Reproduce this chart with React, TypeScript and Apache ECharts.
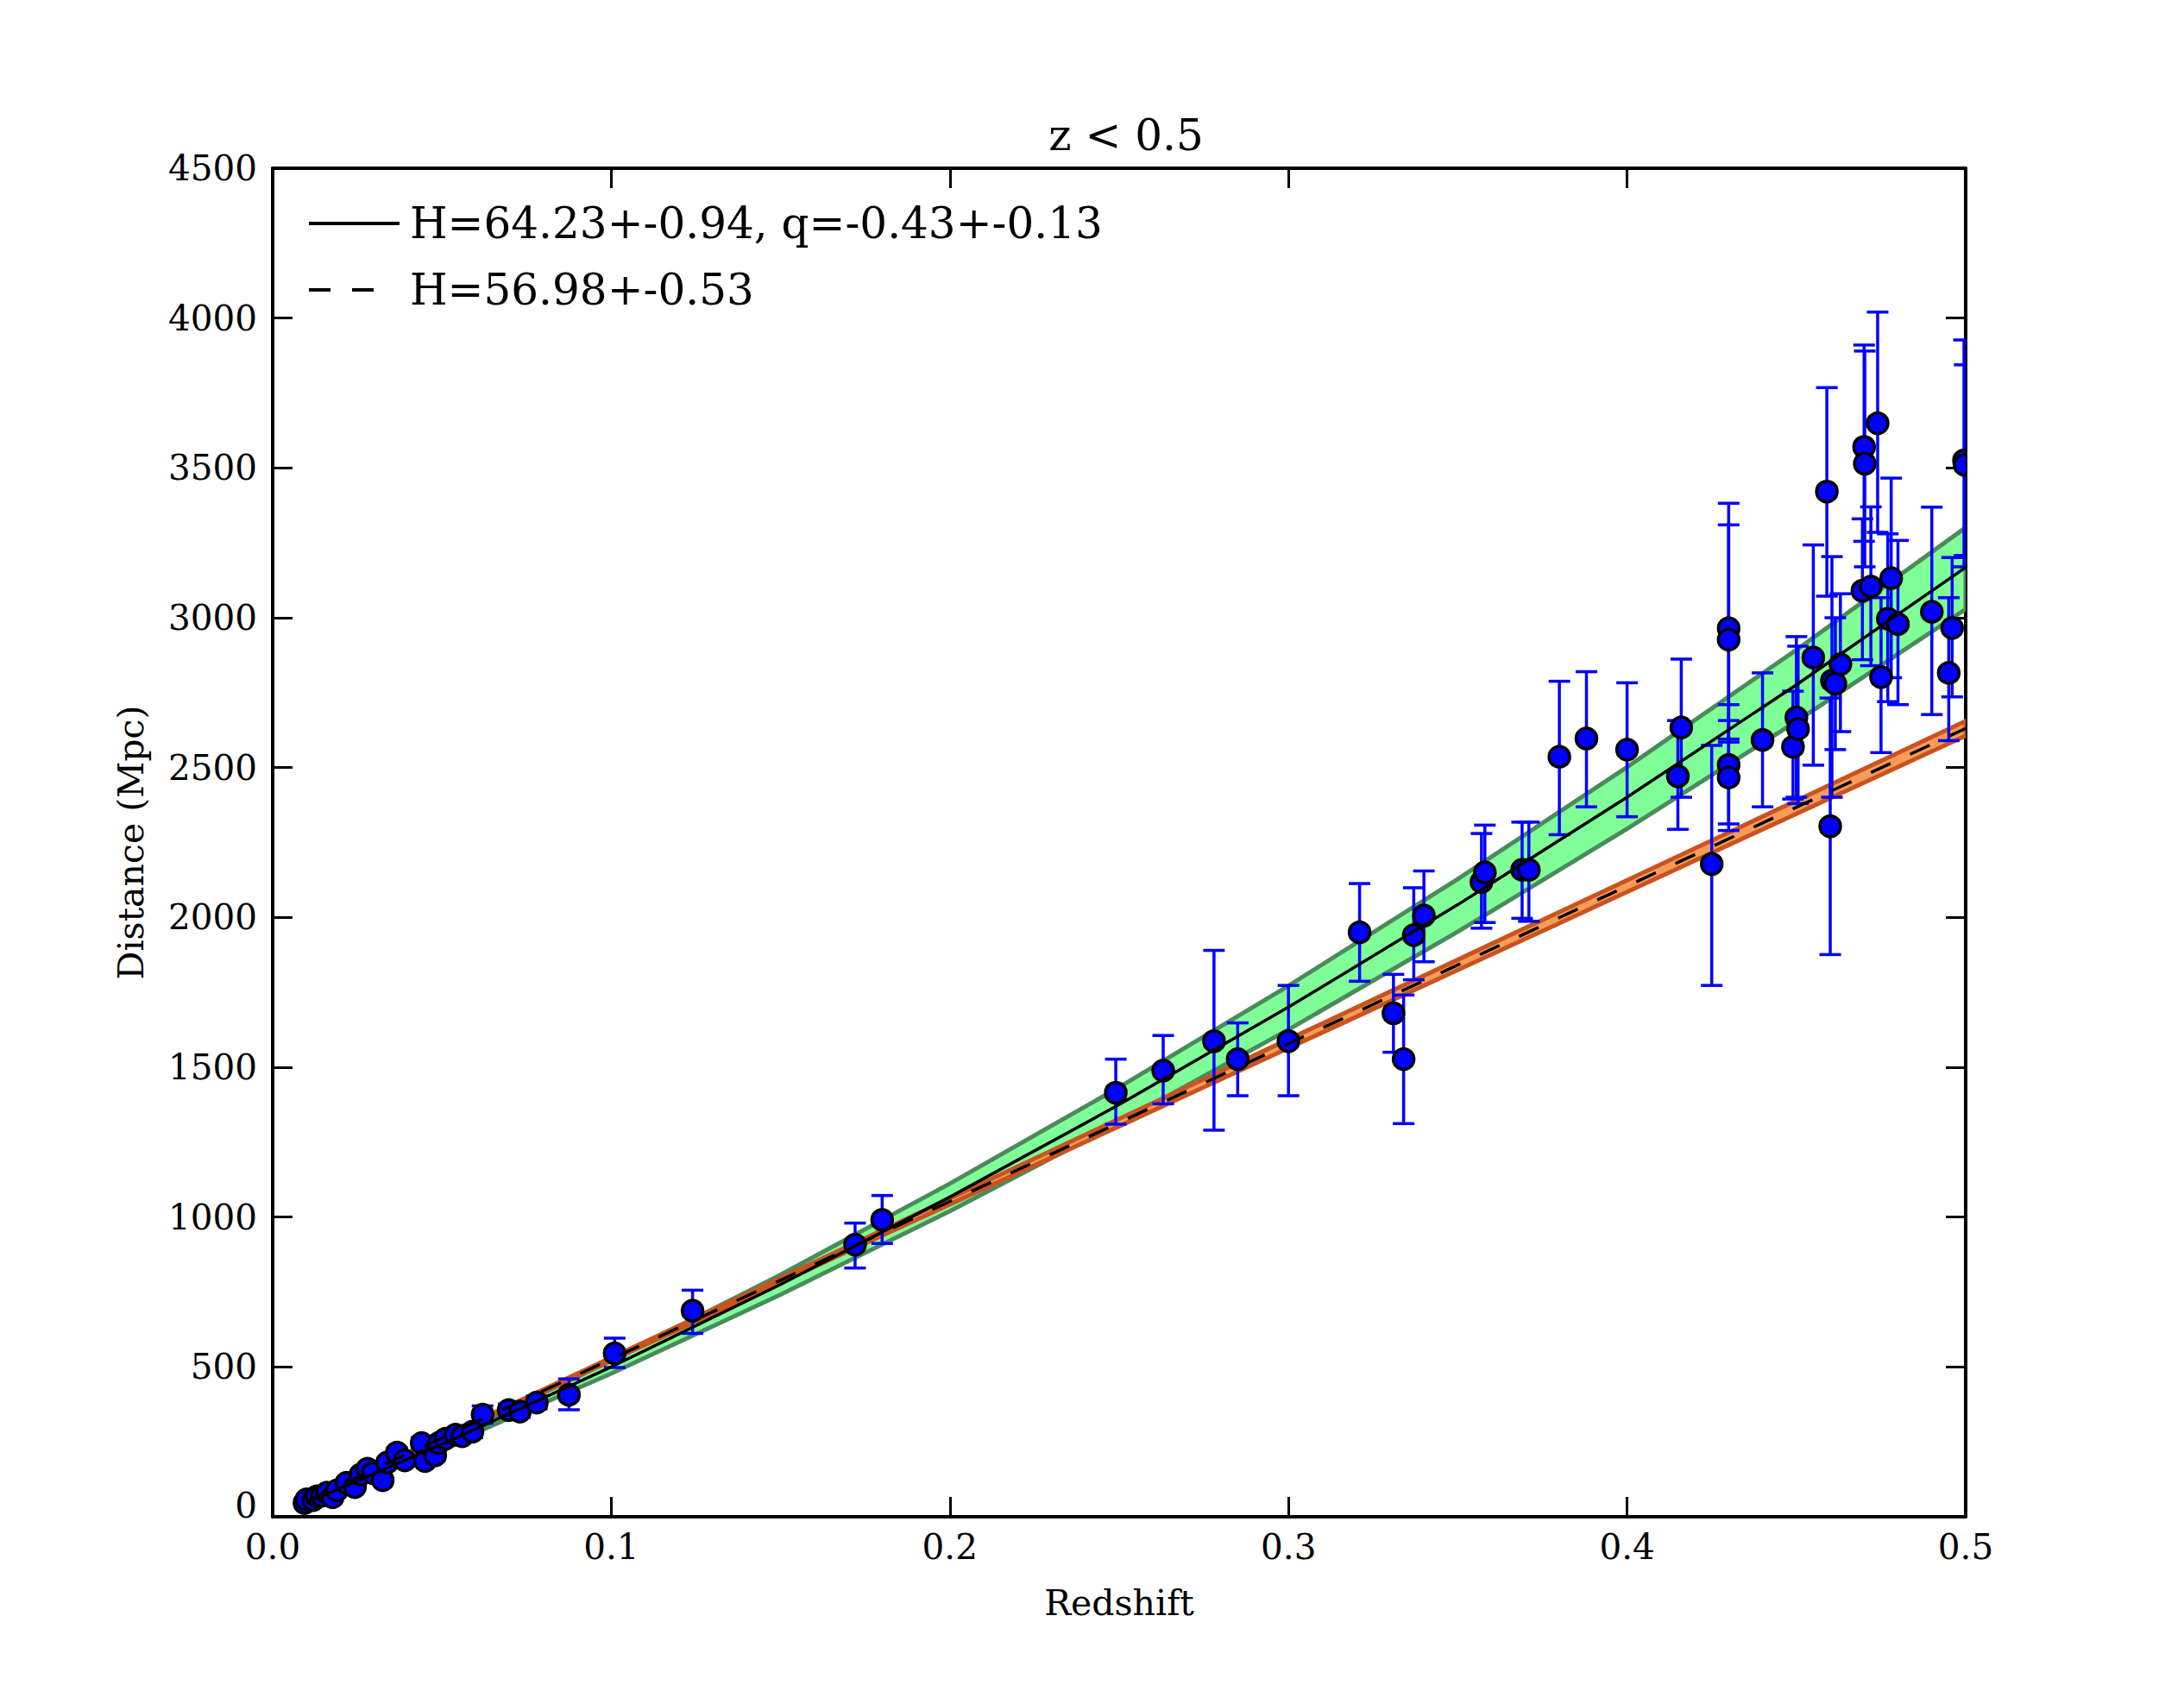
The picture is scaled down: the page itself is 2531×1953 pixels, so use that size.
import React, { useEffect, useRef } from "react";
import * as echarts from "echarts";

// ---- data ----
const pointZ = [
  0.0094, 0.01, 0.012, 0.013, 0.0145, 0.016, 0.0177, 0.019, 0.0218, 0.0243,
  0.026, 0.028, 0.0296, 0.0325, 0.0338, 0.0367, 0.039, 0.044, 0.045, 0.048,
  0.049, 0.051, 0.054, 0.056, 0.059, 0.062, 0.0697, 0.073, 0.078, 0.0875,
  0.101, 0.124, 0.172, 0.18,
  0.249, 0.263, 0.278, 0.285, 0.3, 0.321, 0.331, 0.334, 0.337, 0.34,
  0.357, 0.358, 0.369, 0.371, 0.38, 0.388, 0.4, 0.415, 0.416, 0.425,
  0.43, 0.43, 0.43, 0.43, 0.44, 0.449, 0.45, 0.4505, 0.455, 0.459,
  0.46, 0.4605, 0.4615, 0.463, 0.47, 0.4702, 0.4695, 0.472, 0.474, 0.475,
  0.477, 0.478, 0.48, 0.49, 0.495, 0.496, 0.4995, 0.4997,
];
const pointD = [
  46, 58, 56, 68, 70, 80, 65, 88, 113, 99,
  141, 160, 146, 122, 181, 214, 188, 246, 186, 205,
  246, 260, 274, 269, 284, 341, 356, 351, 381, 407,
  545, 688, 908, 991,
  1415, 1489, 1587, 1527, 1587, 1950, 1680, 1527, 1941, 2006,
  2118, 2150, 2159, 2159, 2536, 2597, 2560, 2471, 2634, 2178,
  2965, 2927, 2509, 2467, 2592, 2569, 2667, 2629, 2867, 3421,
  2304, 2790, 2780, 2845, 3570, 3514, 3090, 3104, 3649, 2802,
  2997, 3132, 2979, 3020, 2816, 2966, 3525, 3510,
];
const errLow = [
  43, 54, 52, 63, 65, 74, 60, 82, 105, 92,
  131, 149, 136, 113, 168, 199, 175, 229, 173, 191,
  229, 242, 255, 250, 264, 312, 337, 332, 360, 357,
  498, 612, 830, 912,
  1310, 1378, 1290, 1405, 1405, 1787, 1550, 1312, 1792, 1852,
  1964, 1983, 1997, 1987, 2276, 2369, 2336, 2294, 2401, 1773,
  2595, 2585, 2312, 2290, 2369, 2395, 2401, 2380, 2508, 3072,
  1876, 2401, 2560, 2620, 3255, 3170, 2860, 2840, 3285, 2550,
  2720, 2800, 2710, 2677, 2590, 2736, 3170, 3208,
];
const errHigh = [
  49, 62, 60, 73, 75, 86, 70, 95, 121, 106,
  151, 172, 157, 131, 194, 230, 202, 264, 200, 220,
  264, 279, 294, 289, 305, 370, 376, 371, 403, 460,
  596, 756, 980, 1072,
  1527, 1606, 1890, 1648, 1773, 2113, 1810, 1741, 2099, 2155,
  2280, 2308, 2318, 2318, 2788, 2820, 2783, 2657, 2862, 2574,
  3382, 3310, 2710, 2657, 2816, 2755, 2937, 2905, 3243, 3768,
  2732, 3204, 3000, 3080, 3910, 3890, 3330, 3370, 4020, 3067,
  3280, 3466, 3258, 3369, 3067, 3201, 3927, 3844,
];

// fit curves (H=64.23, q=-0.43 and H=56.98) and their bands, sampled at these redshifts
const fitZ = [0.01, 0.05, 0.1, 0.15, 0.2, 0.25, 0.3, 0.35, 0.4, 0.45, 0.5];
const fitQ = [47.0, 241.7, 500.1, 775.2, 1067.0, 1375.5, 1700.6, 2042.4, 2401.0, 2776.2, 3168.1];
const fitQHigh = [49.0, 251.9, 521.1, 807.8, 1111.8, 1433.3, 1772.0, 2128.2, 2501.8, 2892.8, 3301.2];
const fitQLow = [44.9, 231.1, 478.1, 741.1, 1020.1, 1315.0, 1625.8, 1952.5, 2295.4, 2654.0, 3028.7];
const fitH = [52.6, 263.1, 526.1, 789.2, 1052.3, 1315.3, 1578.4, 1841.5, 2104.5, 2367.6, 2630.7];
const fitHHigh = [53.1, 265.5, 531.1, 796.6, 1062.2, 1327.7, 1593.2, 1858.8, 2124.3, 2389.8, 2655.4];
const fitHLow = [52.1, 260.6, 521.3, 781.9, 1042.6, 1303.2, 1563.8, 1824.5, 2085.1, 2345.8, 2606.4];

const xTicks = [0, 0.1, 0.2, 0.3, 0.4, 0.5];
const yTicks = [0, 500, 1000, 1500, 2000, 2500, 3000, 3500, 4000, 4500];

const titleText = "z < 0.5";
const legendSolid = "H=64.23+-0.94, q=-0.43+-0.13";
const legendDashed = "H=56.98+-0.53";

const FONT = "DejaVu Serif";

function bandSeries(name: string, hi: number[], lo: number[], fill: string, edge: string, z: number) {
  return {
    name,
    type: "custom",
    z,
    clip: true,
    xAxisIndex: 0,
    yAxisIndex: 0,
    data: [[fitZ[0], lo[0]]],
    encode: { x: 0, y: 1 },
    silent: true,
    renderItem: (_params: any, api: any) => {
      const pts: number[][] = [];
      for (let i = 0; i < fitZ.length; i++) pts.push(api.coord([fitZ[i], hi[i]]));
      for (let i = fitZ.length - 1; i >= 0; i--) pts.push(api.coord([fitZ[i], lo[i]]));
      return {
        type: "polygon",
        shape: { points: pts },
        style: { fill, stroke: edge, lineWidth: 5 },
      };
    },
  };
}

export default function App() {
  const ref = useRef<HTMLDivElement>(null);
  useEffect(() => {
    if (!ref.current) return;
    const chart = echarts.init(ref.current, undefined, { renderer: "svg" });

    const errData = pointZ.map((z, i) => [z, pointD[i], errLow[i], errHigh[i]]);
    const pointData = pointZ.map((z, i) => [z, pointD[i]]);

    const axisCommon = {
      axisLine: { show: true, onZero: false, lineStyle: { color: "#000", width: 4 } },
      axisTick: { show: true, inside: true, length: 23, lineStyle: { color: "#000", width: 3 } },
      splitLine: { show: false },
    };

    const option: any = {
      animation: false,
      backgroundColor: "#fff",
      title: {
        text: titleText,
        left: 1300,
        top: 127,
        textAlign: "center",
        textStyle: { fontFamily: FONT, fontSize: 50, fontWeight: "normal", color: "#000" },
      },
      grid: { left: 316, top: 195, width: 1962, height: 1563, containLabel: false },
      xAxis: [
        {
          type: "value",
          min: 0,
          max: 0.5,
          interval: 0.1,
          position: "bottom",
          ...axisCommon,
          axisLabel: {
            show: true,
            margin: 20,
            lineHeight: 30,
            fontFamily: FONT,
            fontSize: 40.5,
            color: "#000",
            formatter: (v: number) => {
              const t = xTicks.find((x) => Math.abs(x - v) < 1e-9);
              return (t !== undefined ? t : v).toFixed(1);
            },
          },
          name: "Redshift",
          nameLocation: "middle",
          nameGap: 79,
          nameTextStyle: { fontFamily: FONT, fontSize: 41, color: "#000" },
        },
        {
          type: "value",
          min: 0,
          max: 0.5,
          interval: 0.1,
          position: "top",
          ...axisCommon,
          axisLabel: { show: false },
        },
      ],
      yAxis: [
        {
          type: "value",
          min: yTicks[0],
          max: yTicks[yTicks.length - 1],
          interval: 500,
          position: "left",
          ...axisCommon,
          axisLabel: {
            show: true,
            margin: 18,
            lineHeight: 30,
            fontFamily: FONT,
            fontSize: 40.5,
            color: "#000",
            formatter: (v: number) => (Math.round(v) === 0 ? "{zero|0}" : String(Math.round(v))),
            rich: {
              zero: {
                fontFamily: FONT,
                fontSize: 40.5,
                color: "#000",
                lineHeight: 30,
                padding: [0, 0, 26, 0],
              },
            },
          },
          name: "Distance (Mpc)",
          nameLocation: "middle",
          nameGap: 144,
          nameTextStyle: { fontFamily: FONT, fontSize: 41, color: "#000" },
        },
        {
          type: "value",
          min: 0,
          max: 4500,
          interval: 500,
          position: "right",
          ...axisCommon,
          axisLabel: { show: false },
        },
      ],
      series: [
        bandSeries("band q", fitQHigh, fitQLow, "#80ff99", "#4b8b5b", 1),
        bandSeries("band H", fitHHigh, fitHLow, "#f79c58", "#c9531f", 2),
        {
          name: "errors",
          type: "custom",
          z: 3,
          clip: true,
          xAxisIndex: 0,
          yAxisIndex: 0,
          data: errData,
          encode: { x: 0, y: 1 },
          silent: true,
          renderItem: (_params: any, api: any) => {
            const x = api.value(0);
            const lo = api.coord([x, api.value(2)]);
            const hi = api.coord([x, api.value(3)]);
            const cap = 12.5;
            const st = { stroke: "#0000ff", lineWidth: 3.5 };
            return {
              type: "group",
              children: [
                { type: "line", shape: { x1: lo[0], y1: lo[1], x2: hi[0], y2: hi[1] }, style: st },
                { type: "line", shape: { x1: lo[0] - cap, y1: lo[1], x2: lo[0] + cap, y2: lo[1] }, style: st },
                { type: "line", shape: { x1: hi[0] - cap, y1: hi[1], x2: hi[0] + cap, y2: hi[1] }, style: st },
              ],
            };
          },
        },
        {
          name: "data",
          type: "custom",
          z: 4,
          clip: true,
          xAxisIndex: 0,
          yAxisIndex: 0,
          data: pointData,
          encode: { x: 0, y: 1 },
          silent: true,
          renderItem: (_params: any, api: any) => {
            const p = api.coord([api.value(0), api.value(1)]);
            return {
              type: "circle",
              shape: { cx: p[0], cy: p[1], r: 12 },
              style: { fill: "#0000ff", stroke: "#000", lineWidth: 3.5 },
            };
          },
        },
        {
          name: legendSolid,
          type: "line",
          z: 5,
          xAxisIndex: 0,
          yAxisIndex: 0,
          data: fitZ.map((z, i) => [z, fitQ[i]]),
          showSymbol: false,
          symbol: "none",
          lineStyle: { color: "#000", width: 3.5, type: "solid" },
          silent: true,
        },
        {
          name: legendDashed,
          type: "line",
          z: 5,
          xAxisIndex: 0,
          yAxisIndex: 0,
          data: fitZ.map((z, i) => [z, fitH[i]]),
          showSymbol: false,
          symbol: "none",
          lineStyle: { color: "#000", width: 3.5, type: [25, 25] },
          silent: true,
        },
      ],
      graphic: [
        {
          type: "line",
          shape: { x1: 358, y1: 259, x2: 463, y2: 259 },
          style: { stroke: "#000", lineWidth: 4 },
          z: 10,
        },
        {
          type: "text",
          x: 475,
          y: 259,
          style: { text: legendSolid, fontFamily: FONT, fontSize: 50, fill: "#000", verticalAlign: "middle", align: "left" },
          z: 10,
        },
        {
          type: "line",
          shape: { x1: 358, y1: 336, x2: 433, y2: 336 },
          style: { stroke: "#000", lineWidth: 4, lineDash: [25, 25] },
          z: 10,
        },
        {
          type: "text",
          x: 475,
          y: 336,
          style: { text: legendDashed, fontFamily: FONT, fontSize: 50, fill: "#000", verticalAlign: "middle", align: "left" },
          z: 10,
        },
      ],
    };
    chart.setOption(option);
    return () => chart.dispose();
  }, []);

  return (
    <div
      ref={ref}
      style={{ position: "absolute", left: 0, top: 0, width: 2531, height: 1953, background: "#fff" }}
    />
  );
}
